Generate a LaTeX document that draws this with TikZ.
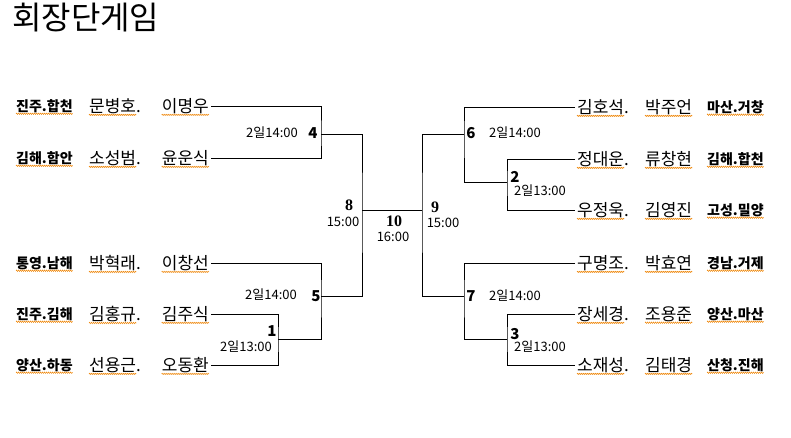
\documentclass[tikz,border=0pt]{standalone}
\usepackage{fontspec}
\setmainfont{Noto Sans CJK KR}
\newfontfamily\numfont{Liberation Serif}
\usetikzlibrary{decorations.pathmorphing}
\definecolor{spellorange}{RGB}{240,140,20}

\tikzset{
  kttitle/.style={anchor=west, inner sep=0pt, font=\fontsize{32}{34}\selectfont},
  ktspell/.style={draw=spellorange, line width=0.6pt, decorate, decoration={zigzag, amplitude=0.6pt, segment length=2pt}},
  ktul/.style={append after command={([yshift=-2.5pt]\tikzlastnode.base west) edge[ktspell] ([yshift=-2.5pt]\tikzlastnode.base east)}},
  ktname/.style={inner sep=0pt, font=\fontsize{17}{19}\selectfont, ktul},
  ktregion/.style={inner sep=0pt, font=\fontsize{14}{16}\selectfont\bfseries, ktul},
  ktno/.style={inner sep=0pt, font=\fontsize{15}{17}\selectfont\bfseries},
  ktbig/.style={inner sep=0pt, font=\numfont\bfseries\fontsize{16}{18}\selectfont},
  kttime/.style={inner sep=0pt, font=\fontsize{13}{15}\selectfont},
  ktline/.style={line width=0.9pt},
  ktpline/.style={line width=0.9pt, shorten <=2pt, shorten >=2pt}
}

\begin{document}
\begin{tikzpicture}[x=1pt,y=-1pt]
  \useasboundingbox[fill=white] (0,0) rectangle (791,438);

  \node[kttitle] (title) at (12,18) {회장단게임};

  % left half
  \node[ktregion, anchor=west] (l1r) at (16,106) {진주.합천};
  \node[ktname, anchor=west] (l1a) at (89,106) {문병호\rlap{.}};
  \node[ktname, anchor=east] (l1b) at (209,106) {이명우};

  \node[ktregion, anchor=west] (l2r) at (16,158) {김해.함안};
  \node[ktname, anchor=west] (l2a) at (89,158) {소성범\rlap{.}};
  \node[ktname, anchor=east] (l2b) at (209,158) {윤운식};

  \node[ktregion, anchor=west] (l3r) at (16,263) {통영.남해};
  \node[ktname, anchor=west] (l3a) at (89,263) {박혁래\rlap{.}};
  \node[ktname, anchor=east] (l3b) at (209,263) {이창선};

  \node[ktregion, anchor=west] (l4r) at (16,314) {진주.김해};
  \node[ktname, anchor=west] (l4a) at (89,314) {김홍규\rlap{.}};
  \node[ktname, anchor=east] (l4b) at (209,314) {김주식};

  \node[ktregion, anchor=west] (l5r) at (16,365) {양산.하동};
  \node[ktname, anchor=west] (l5a) at (89,365) {선용근\rlap{.}};
  \node[ktname, anchor=east] (l5b) at (209,365) {오동환};

  % right half
  \node[ktname, anchor=west] (r1a) at (577,107) {김호석\rlap{.}};
  \node[ktname, anchor=west] (r1b) at (645,107) {박주언};
  \node[ktregion, anchor=west] (r1r) at (707,107) {마산.거창};

  \node[ktname, anchor=west] (r2a) at (577,159) {정대운\rlap{.}};
  \node[ktname, anchor=west] (r2b) at (645,159) {류창현};
  \node[ktregion, anchor=west] (r2r) at (707,159) {김해.합천};

  \node[ktname, anchor=west] (r3a) at (577,210) {우정욱\rlap{.}};
  \node[ktname, anchor=west] (r3b) at (645,210) {김영진};
  \node[ktregion, anchor=west] (r3r) at (707,210) {고성.밀양};

  \node[ktname, anchor=west] (r4a) at (577,263) {구명조\rlap{.}};
  \node[ktname, anchor=west] (r4b) at (645,263) {박효연};
  \node[ktregion, anchor=west] (r4r) at (707,263) {경남.거제};

  \node[ktname, anchor=west] (r5a) at (577,314) {장세경\rlap{.}};
  \node[ktname, anchor=west] (r5b) at (645,314) {조용준};
  \node[ktregion, anchor=west] (r5r) at (707,314) {양산.마산};

  \node[ktname, anchor=west] (r6a) at (577,365) {소재성\rlap{.}};
  \node[ktname, anchor=west] (r6b) at (645,365) {김태경};
  \node[ktregion, anchor=west] (r6r) at (707,365) {산청.진해};

  % bracket joints
  \coordinate (m4) at (321,134);
  \coordinate (m1) at (278,339);
  \coordinate (m5) at (321,296);
  \coordinate (m8) at (362,210);
  \coordinate (m9) at (422,210);
  \coordinate (m6) at (464,134);
  \coordinate (m2) at (507,182);
  \coordinate (m7) at (464,296);
  \coordinate (m3) at (507,339);

  \draw[ktpline] (l1b.east) -| (m4) |- (l2b.east);
  \draw[ktpline] (l4b.east) -| (m1) |- (l5b.east);
  \draw[ktline, shorten <=2pt] (l3b.east) -| (m5) |- (m1);
  \draw[ktline] (m4) -| (m8) |- (m5);
  \draw[ktline] (m8) -- (m9);
  \draw[ktline] (m6) -| (m9) |- (m7);
  \draw[ktline, shorten <=2pt] (r1a.west) -| (m6) |- (m2);
  \draw[ktpline] (r2a.west) -| (m2) |- (r3a.west);
  \draw[ktline, shorten <=2pt] (r4a.west) -| (m7) |- (m3);
  \draw[ktpline] (r5a.west) -| (m3) |- (r6a.west);

  % match numbers and times
  \node[ktno] (n4) at (313,133) {4};
  \node[kttime, anchor=east] (t4) at (298,133) {2일14:00};
  \node[ktno] (n5) at (316,296) {5};
  \node[kttime, anchor=east] (t5) at (297,295) {2일14:00};
  \node[ktno] (n1) at (272,331) {1};
  \node[kttime, anchor=east] (t1) at (272,347) {2일13:00};

  \node[ktbig] (n8) at (349,205) {8};
  \node[kttime] (t8) at (343,222) {15:00};
  \node[ktbig] (n10) at (394,221) {10};
  \node[kttime] (t10) at (393,237) {16:00};
  \node[ktbig] (n9) at (435,207) {9};
  \node[kttime] (t9) at (443,223) {15:00};

  \node[ktno] (n6) at (471,133) {6};
  \node[kttime, anchor=west] (t6) at (489,133) {2일14:00};
  \node[ktno] (n2) at (515,177) {2};
  \node[kttime, anchor=west] (t2) at (514,191) {2일13:00};
  \node[ktno] (n7) at (471,296) {7};
  \node[kttime, anchor=west] (t7) at (489,296) {2일14:00};
  \node[ktno] (n3) at (515,334) {3};
  \node[kttime, anchor=west] (t3) at (514,347) {2일13:00};
\end{tikzpicture}
\end{document}
